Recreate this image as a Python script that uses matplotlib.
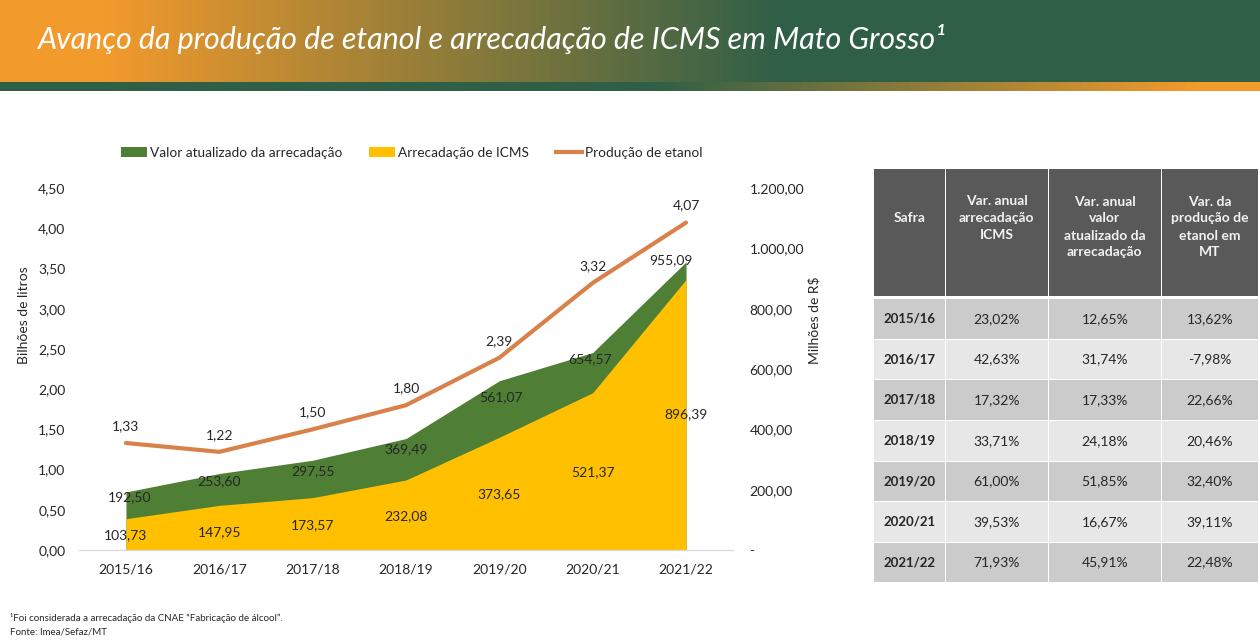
import matplotlib
matplotlib.use("Agg")
import matplotlib.pyplot as plt
import numpy as np
from matplotlib.colors import LinearSegmentedColormap
from matplotlib.lines import Line2D
from matplotlib.patches import Patch, Rectangle

plt.rcParams['font.family'] = ['Lato', 'DejaVu Sans']

safras = ['2015/16', '2016/17', '2017/18', '2018/19', '2019/20', '2020/21', '2021/22']
valor_atualizado = [192.50, 253.60, 297.55, 369.49, 561.07, 654.57, 955.09]
arrecadacao = [103.73, 147.95, 173.57, 232.08, 373.65, 521.37, 896.39]
producao = [1.33, 1.22, 1.50, 1.80, 2.39, 3.32, 4.07]

left_ticks = [0, 0.5, 1, 1.5, 2, 2.5, 3, 3.5, 4, 4.5]
left_labels = ['0,00', '0,50', '1,00', '1,50', '2,00', '2,50', '3,00', '3,50', '4,00', '4,50']
right_ticks = [0, 200, 400, 600, 800, 1000, 1200]
right_labels = ['-', '200,00', '400,00', '600,00', '800,00', '1.000,00', '1.200,00']

table_header = ['Safra', 'Var. anual\narrecadação\nICMS', 'Var. anual\nvalor\natualizado da\narrecadação',
                'Var. da\nprodução de\netanol em\nMT']
var_icms = ['23,02%', '42,63%', '17,32%', '33,71%', '61,00%', '39,53%', '71,93%']
var_valor = ['12,65%', '31,74%', '17,33%', '24,18%', '51,85%', '16,67%', '45,91%']
var_producao = ['13,62%', '-7,98%', '22,66%', '20,46%', '32,40%', '39,11%', '22,48%']

ORANGE = '#f39a2c'
GREEN_DARK = '#2f5f47'
GREEN = '#4f7f35'
YELLOW = '#ffc000'
LINE = '#d9814a'
TEXT = '#262626'

fig = plt.figure(figsize=(12.6, 6.41), dpi=100)

# background layer in pixel coordinates: header, table, footnote
bg = fig.add_axes([0, 0, 1, 1], zorder=0)
bg.axis('off')

top_cmap = LinearSegmentedColormap.from_list('top', [(0, ORANGE), (0.08, ORANGE), (0.62, GREEN_DARK), (1, GREEN_DARK)])
strip_cmap = LinearSegmentedColormap.from_list('strip', [(0, GREEN_DARK), (0.52, GREEN_DARK), (0.95, ORANGE), (1, ORANGE)])
ramp = np.linspace(0, 1, 1260).reshape(1, -1)
bg.imshow(ramp, cmap=top_cmap, extent=[0, 1260, 82, 0], aspect='auto')
bg.imshow(ramp, cmap=strip_cmap, extent=[0, 1260, 91, 82], aspect='auto')
bg.set_xlim(0, 1260)
bg.set_ylim(641, 0)

bg.text(38, 39, 'Avanço da produção de etanol e arrecadação de ICMS em Mato Grosso¹', color='white',
        fontsize=21.9, style='italic', va='center', ha='left')

bg.text(10, 618, '¹Foi considerada a arrecadação da CNAE “Fabricação de álcool”.', fontsize=7, color=TEXT, va='center')
bg.text(10, 632, 'Fonte: Imea/Sefaz/MT', fontsize=7, color=TEXT, va='center')

# table
col_edges = [874, 946, 1049, 1162, 1259]
row_edges = [299, 340, 380, 421, 462, 502, 543, 583.5]
for c in range(4):
    x0, x1 = col_edges[c], col_edges[c + 1]
    bg.add_patch(Rectangle((x0, 169), x1 - x0 - 1.5, 127, facecolor='#595959', edgecolor='none'))
    bg.text((x0 + x1 - 1.5) / 2, 227 if c >= 2 else 218, table_header[c], color='#f2f2f2', fontsize=10,
            fontweight='bold', ha='center', va='center', linespacing=1.5)

for r, safra in enumerate(safras):
    y0, y1 = row_edges[r], row_edges[r + 1]
    shade = '#cbcbcb' if r % 2 == 0 else '#e7e7e7'
    cells = [safra, var_icms[r], var_valor[r], var_producao[r]]
    for c, cell in enumerate(cells):
        x0, x1 = col_edges[c], col_edges[c + 1]
        bg.add_patch(Rectangle((x0, y0), x1 - x0 - 1.5, y1 - y0 - 1.5, facecolor=shade, edgecolor='none'))
        bg.text((x0 + x1 - 1.5) / 2, (y0 + y1 - 1.5) / 2, cell, color=TEXT, fontsize=9.5 if c == 0 else 10,
                fontweight='bold' if c == 0 else 'normal', ha='center', va='center')

# chart
ax = fig.add_axes([79.3 / 1260, 1 - 550 / 641, 653.4 / 1260, 362 / 641], zorder=2)
ax.patch.set_alpha(0)
ax2 = ax.twinx()
ax2.patch.set_alpha(0)
x = np.arange(len(safras))

ax2.fill_between(x, valor_atualizado, color=GREEN, linewidth=0)
ax2.fill_between(x, arrecadacao, color=YELLOW, linewidth=0)
ax.set_zorder(3)
ax.plot(x, producao, color=LINE, linewidth=3, solid_capstyle='round')

ax.set_xlim(-0.5, 6.5)
ax.set_ylim(0, 4.5)
ax2.set_ylim(0, 1200)
ax.set_xticks(x, safras)
ax.set_yticks(left_ticks, left_labels)
ax2.set_yticks(right_ticks, right_labels)
ax.tick_params(axis='x', length=0, pad=9.5, labelsize=10, labelcolor=TEXT)
ax.tick_params(axis='y', length=0, pad=10, labelsize=10, labelcolor=TEXT)
ax2.tick_params(axis='y', length=0, pad=12, labelsize=10, labelcolor=TEXT)
for a in (ax, ax2):
    for side in ('top', 'left', 'right'):
        a.spines[side].set_visible(False)
    a.spines['bottom'].set_color('#d9d9d9')

ax.set_ylabel('Bilhões de litros', fontsize=10, color=TEXT)
ax.yaxis.set_label_coords(-0.075, 0.648)
ax2.set_ylabel('Milhões de R$', fontsize=10, color=TEXT)
ax2.yaxis.set_label_coords(1.116, 0.635)

# pixel offsets of the data labels from their points
valor_offsets = [(4, -5), (0, -8), (0, -11), (0, -11), (2, -16), (-3, -7), (-15, 2)]
arrec_offsets = [(0, -16), (0, -27), (0, -28), (0, -36), (0, -57), (0, -79), (0, -135)]

for i in x:
    ax.annotate(f'{producao[i]:.2f}'.replace('.', ','), (i, producao[i]), xytext=(0, 17), textcoords='offset pixels',
                ha='center', va='center', fontsize=10, color=TEXT)
    ax.annotate(f'{valor_atualizado[i]:.2f}'.replace('.', ','), (i, valor_atualizado[i] * 4.5 / 1200),
                xytext=valor_offsets[i], textcoords='offset pixels', ha='center', va='center', fontsize=10, color=TEXT)
    ax.annotate(f'{arrecadacao[i]:.2f}'.replace('.', ','), (i, arrecadacao[i] * 4.5 / 1200),
                xytext=arrec_offsets[i], textcoords='offset pixels', ha='center', va='center', fontsize=10, color=TEXT)

handles = [Patch(facecolor=GREEN, label='Valor atualizado da arrecadação'),
           Patch(facecolor=YELLOW, label='Arrecadação de ICMS'),
           Line2D([0], [0], color=LINE, linewidth=3, label='Produção de etanol')]
fig.legend(handles=handles, ncol=3, frameon=False, fontsize=9.8, labelcolor=TEXT,
           loc='center left', bbox_to_anchor=(121 / 1260, 1 - 153 / 641),
           handlelength=1.9, handleheight=0.7, handletextpad=0.22, columnspacing=2.0, borderpad=0, borderaxespad=0)

fig.savefig('out.png', dpi=100)
